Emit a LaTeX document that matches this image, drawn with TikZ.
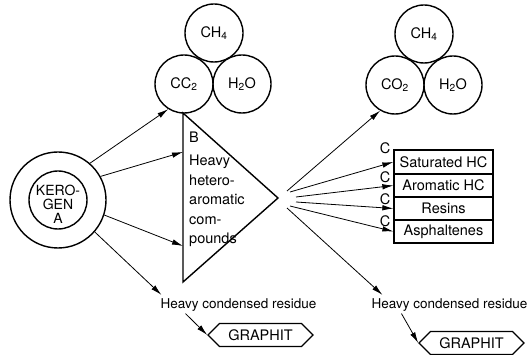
\documentclass[tikz,border=0pt]{standalone}
\usepackage{fontspec}
\setmainfont{TeX Gyre Heros}
\usetikzlibrary{arrows.meta,shapes.symbols,calc}
\begin{document}
\begin{tikzpicture}[x=1pt,y=-1pt,
  font=\fontsize{14.5}{15}\selectfont,
  ball/.style={circle,draw,line width=1.4pt,minimum size=58pt,inner sep=0pt},
  frac/.style={draw,line width=1.3pt,minimum width=99pt,inner sep=0pt},
  conn/.style={line width=0.8pt,-{Latex[length=11pt,width=5.5pt]}},
  hexa/.style={draw,line width=1.1pt,signal,signal to=west and east,signal pointer angle=90,minimum width=105pt,minimum height=23pt,inner sep=0pt},
  lbl/.style={inner sep=0pt}]
\useasboundingbox (0,0) rectangle (527,355);
% left gas circles
\node[ball] (lch4) at (214,33) {CH\textsubscript{4}};
\node[ball] (lcc2) at (184,84) {CC\textsubscript{2}};
\node[ball] (lh2o) at (242,84) {H\textsubscript{2}O};
% right gas circles
\node[ball] (rch4) at (424,34) {CH\textsubscript{4}};
\node[ball] (rco2) at (395,85) {CO\textsubscript{2}};
\node[ball] (rh2o) at (453,85) {H\textsubscript{2}O};
% kerogen
\node[circle,draw,line width=1.4pt,minimum size=96pt,inner sep=0pt] (kero) at (58,200) {};
\node[ball] (keroin) at (58,200) {};
\node[lbl,align=center,font=\fontsize{14}{14}\selectfont] (kerotext) at (58,204) {KERO-\\GEN\\A};
% triangle B
\coordinate (tT) at (183,113);
\coordinate (tA) at (278,198);
\coordinate (tD) at (183,282);
\coordinate (tB) at (183,152);
\coordinate (tL) at (183,246);
\draw[line width=1.4pt,line join=miter] (tT) -- (tA) -- (tD) -- cycle;
\node[lbl,align=left,anchor=north west,font=\fontsize{14.5}{19.5}\selectfont] (btext) at (189,132) {B\\[3.5pt]Heavy\\hetero-\\aromatic\\com-\\pounds};
% fractions
\node[frac,minimum height=24pt] (sat) at (443.5,162) {Saturated HC};
\node[frac,minimum height=23pt] (aro) at (443.5,185.5) {Aromatic HC};
\node[frac,minimum height=23pt] (res) at (443.5,208.5) {Resins};
\node[frac,minimum height=23pt] (asp) at (443.5,231.5) {Asphaltenes};
\node[lbl] (c1) at (385,148) {C};
\node[lbl] (c2) at (385,177) {C};
\node[lbl] (c3) at (385,199) {C};
\node[lbl] (c4) at (385,221) {C};
% residues
\node[lbl,font=\fontsize{13.5}{14}\selectfont] (lres) at (238.5,305) {Heavy condensed residue};
\node[lbl,font=\fontsize{13.5}{14}\selectfont] (rres) at (449.5,305) {Heavy condensed residue};
\node[hexa] (lgr) at (260.5,335) {GRAPHIT};
\node[hexa] (rgr) at (471.5,343) {GRAPHIT};
% fan origins
\coordinate (f1) at (287,191);
\coordinate (f2) at (290,192);
\coordinate (f3) at (296,197);
\coordinate (f4) at (296,202);
\coordinate (f5) at (290,206);
\coordinate (f6) at (287,208);
% connectors from kerogen
\draw[conn] (kero.49) -- (lcc2.238);
\draw[conn] (kero.29) -- (tB);
\draw[conn] (kero.-18) -- (tL);
\draw[conn] (kero.-41) -- ($(lres.north west)+(1,-3.5)$);
% connectors from B
\draw[conn] (f1) -- (rco2.240);
\draw[conn] (f2) -- (sat.west);
\draw[conn] (f3) -- (aro.west);
\draw[conn] (f4) -- (res.west);
\draw[conn] (f5) -- (asp.west);
\draw[conn] (f6) -- ($(rres.north west)+(11,-3.5)$);
% residue to graphite
\draw[conn] ($(lres.south west)+(25,2)$) -- (lgr.west);
\draw[conn] ($(rres.south west)+(30,2)$) -- (rgr.west);
\end{tikzpicture}
\end{document}
